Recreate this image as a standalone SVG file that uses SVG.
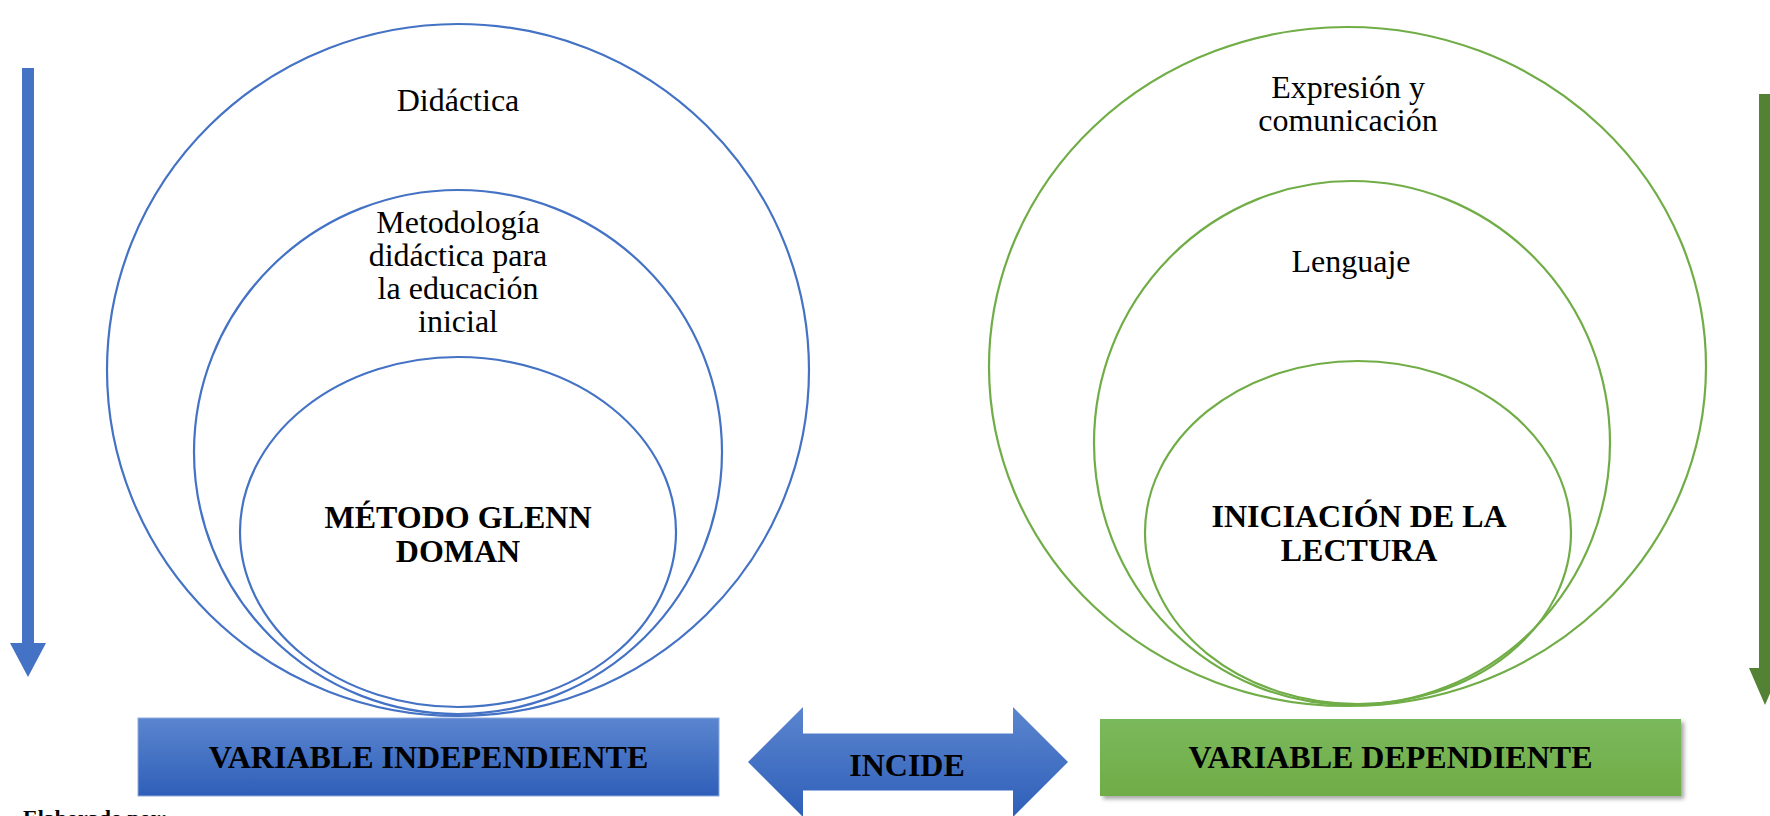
<svg xmlns="http://www.w3.org/2000/svg" width="1770" height="816" viewBox="0 0 1770 816">
<defs>
<linearGradient id="gBlue" x1="0" y1="0" x2="0" y2="1">
<stop offset="0" stop-color="#5b85cf"/>
<stop offset="1" stop-color="#2e5fb8"/>
</linearGradient>
<linearGradient id="gGreen" x1="0" y1="0" x2="0" y2="1">
<stop offset="0" stop-color="#7ab85c"/>
<stop offset="1" stop-color="#70ad47"/>
</linearGradient>
<filter id="shadow" x="-5%" y="-10%" width="115%" height="130%">
<feDropShadow dx="3" dy="3" stdDeviation="2" flood-color="#000" flood-opacity="0.35"/>
</filter>
</defs>
<style>
.bl{fill:none;stroke:#4472c4;stroke-width:2.2}
.gr{fill:none;stroke:#70ad47;stroke-width:2.2}
.t{font-family:"Liberation Serif","Times New Roman",serif;font-size:32px;fill:#000;text-anchor:middle}
.b{font-weight:bold}
.f{font-family:"Liberation Serif","Times New Roman",serif;font-size:22px;fill:#000}
</style>
<rect width="1770" height="816" fill="#fff"/>

<g id="connectors">
<polygon id="arrow-left" points="22,68 34,68 34,643 46,643 28,677 10,643 22,643" fill="#4472c4"/>
<polygon id="arrow-right" points="1759,94 1771,94 1771,668 1781,668 1765,705 1749,668 1759,668" fill="#548235"/>
<g id="incide">
<polygon points="748,762 803,707 803,733.5 1013,733.5 1013,707 1068,762 1013,817 1013,790.5 803,790.5 803,817" fill="url(#gBlue)"/>
<text class="t b" x="907" y="776">INCIDE</text>
</g>
</g>

<g id="didactica">
<ellipse class="bl" cx="458" cy="370" rx="351" ry="346"/>
<text class="t" x="458" y="111">Didáctica</text>
</g>
<g id="metodologia">
<ellipse class="bl" cx="458" cy="452" rx="264" ry="262"/>
<text class="t" x="458" y="233">Metodología</text>
<text class="t" x="458" y="266">didáctica para</text>
<text class="t" x="458" y="299">la educación</text>
<text class="t" x="458" y="332">inicial</text>
</g>
<g id="glenn">
<ellipse class="bl" cx="458" cy="532" rx="218" ry="175"/>
<text class="t b" x="458" y="528">MÉTODO GLENN</text>
<text class="t b" x="458" y="562">DOMAN</text>
</g>

<g id="expresion">
<ellipse class="gr" cx="1347.5" cy="366.5" rx="358.5" ry="339.5"/>
<text class="t" x="1348" y="98">Expresión y</text>
<text class="t" x="1348" y="131">comunicación</text>
</g>
<g id="lenguaje">
<ellipse class="gr" cx="1352" cy="443" rx="258" ry="262"/>
<text class="t" x="1351" y="272">Lenguaje</text>
</g>
<g id="lectura">
<ellipse class="gr" cx="1358" cy="532.5" rx="213" ry="171.5"/>
<text class="t b" x="1359" y="527">INICIACIÓN DE LA</text>
<text class="t b" x="1359" y="561">LECTURA</text>
</g>

<g id="var-indep">
<rect x="138" y="718" width="581" height="78" fill="url(#gBlue)" stroke="#8eaadc" stroke-width="1"/>
<text class="t b" x="428.5" y="768">VARIABLE INDEPENDIENTE</text>
</g>
<g id="var-dep">
<rect x="1100" y="719" width="581" height="77" fill="url(#gGreen)" filter="url(#shadow)"/>
<text class="t b" x="1390.5" y="768">VARIABLE DEPENDIENTE</text>
</g>

<text id="footer" class="f" x="23" y="825"><tspan font-weight="bold">Elaborado por:</tspan></text>
</svg>
